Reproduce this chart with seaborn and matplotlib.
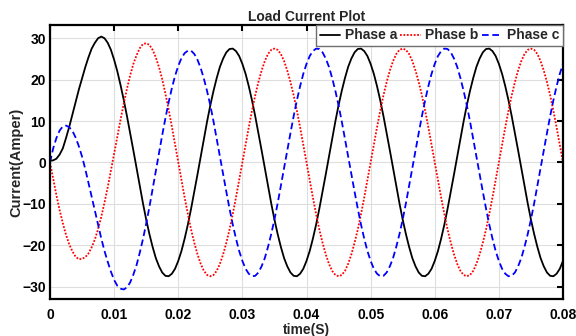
import numpy as np
import pandas as pd
import seaborn as sns
import matplotlib
matplotlib.use("Agg")
import matplotlib.pyplot as plt

# Load currents of the three phases, sampled every 0.5 ms from 0 to 80 ms
t_step = 0.0005
phase_a = [
    0.4, 0.5, 0.9, 1.9, 3.4, 5.9, 8.6, 11.6, 14.7, 17.6,
    20.3, 23.0, 25.4, 27.5, 28.9, 30.0, 30.4, 30.0, 28.9, 27.2,
    24.8, 22.0, 18.7, 15.1, 11.2, 7.1, 2.9, -1.4, -5.7, -9.9,
    -13.8, -17.3, -20.4, -23.1, -25.1, -26.6, -27.4, -27.5, -26.9, -25.7,
    -23.8, -21.4, -18.4, -15.0, -11.2, -7.1, -2.9, 1.4, 5.7, 9.9,
    13.8, 17.3, 20.4, 23.1, 25.1, 26.6, 27.4, 27.5, 26.9, 25.7,
    23.8, 21.4, 18.4, 15.0, 11.2, 7.1, 2.9, -1.4, -5.7, -9.9,
    -13.8, -17.3, -20.4, -23.1, -25.1, -26.6, -27.4, -27.5, -26.9, -25.7,
    -23.8, -21.4, -18.4, -15.0, -11.2, -7.1, -2.9, 1.4, 5.7, 9.9,
    13.8, 17.3, 20.4, 23.1, 25.1, 26.6, 27.4, 27.5, 26.9, 25.7,
    23.8, 21.4, 18.4, 15.0, 11.2, 7.1, 2.9, -1.4, -5.7, -9.9,
    -13.8, -17.3, -20.4, -23.1, -25.1, -26.6, -27.4, -27.5, -26.9, -25.7,
    -23.8, -21.4, -18.4, -15.0, -11.2, -7.1, -2.9, 1.4, 5.7, 9.9,
    13.8, 17.3, 20.4, 23.1, 25.1, 26.6, 27.4, 27.5, 26.9, 25.7,
    23.8, 21.4, 18.4, 15.0, 11.2, 7.1, 2.9, -1.4, -5.7, -9.9,
    -13.8, -17.3, -20.4, -23.1, -25.1, -26.6, -27.4, -27.5, -26.9, -25.7,
    -23.8,
]
phase_b = [
    0.0, -4.0, -7.9, -11.5, -14.7, -17.5, -19.8, -21.5, -22.8, -23.4,
    -23.3, -22.9, -22.0, -20.5, -18.6, -16.1, -13.1, -9.7, -6.0, -2.0,
    2.1, 6.2, 10.3, 14.2, 17.8, 21.0, 23.8, 25.9, 27.6, 28.6,
    28.8, 28.4, 27.2, 25.4, 23.0, 20.1, 16.6, 12.8, 8.7, 4.4,
    0.0, -4.3, -8.5, -12.5, -16.2, -19.4, -22.2, -24.5, -26.2, -27.2,
    -27.5, -27.2, -26.2, -24.5, -22.2, -19.4, -16.2, -12.5, -8.5, -4.3,
    0.0, 4.3, 8.5, 12.5, 16.2, 19.4, 22.2, 24.5, 26.2, 27.2,
    27.5, 27.2, 26.2, 24.5, 22.2, 19.4, 16.2, 12.5, 8.5, 4.3,
    0.0, -4.3, -8.5, -12.5, -16.2, -19.4, -22.2, -24.5, -26.2, -27.2,
    -27.5, -27.2, -26.2, -24.5, -22.2, -19.4, -16.2, -12.5, -8.5, -4.3,
    0.0, 4.3, 8.5, 12.5, 16.2, 19.4, 22.2, 24.5, 26.2, 27.2,
    27.5, 27.2, 26.2, 24.5, 22.2, 19.4, 16.2, 12.5, 8.5, 4.3,
    0.0, -4.3, -8.5, -12.5, -16.2, -19.4, -22.2, -24.5, -26.2, -27.2,
    -27.5, -27.2, -26.2, -24.5, -22.2, -19.4, -16.2, -12.5, -8.5, -4.3,
    0.0, 4.3, 8.5, 12.5, 16.2, 19.4, 22.2, 24.5, 26.2, 27.2,
    27.5, 27.2, 26.2, 24.5, 22.2, 19.4, 16.2, 12.5, 8.5, 4.3,
    0.0,
]
phase_c = [
    0.0, 3.4, 5.9, 7.7, 8.7, 8.9, 8.5, 7.6, 6.0, 3.9,
    1.4, -1.6, -4.9, -8.3, -11.7, -15.1, -18.4, -21.4, -24.0, -26.4,
    -28.4, -29.8, -30.5, -30.7, -30.2, -29.0, -27.1, -24.8, -21.8, -18.5,
    -14.8, -10.8, -6.5, -2.1, 2.3, 6.6, 10.7, 14.5, 17.9, 20.9,
    23.3, 25.2, 26.4, 27.0, 27.0, 26.2, 24.8, 22.8, 20.2, 17.2,
    13.8, 9.9, 5.7, 1.4, -2.9, -7.1, -11.2, -15.0, -18.4, -21.4,
    -23.8, -25.7, -26.9, -27.5, -27.4, -26.6, -25.1, -23.1, -20.4, -17.3,
    -13.8, -9.9, -5.7, -1.4, 2.9, 7.1, 11.2, 15.0, 18.4, 21.4,
    23.8, 25.7, 26.9, 27.5, 27.4, 26.6, 25.1, 23.1, 20.4, 17.3,
    13.8, 9.9, 5.7, 1.4, -2.9, -7.1, -11.2, -15.0, -18.4, -21.4,
    -23.8, -25.7, -26.9, -27.5, -27.4, -26.6, -25.1, -23.1, -20.4, -17.3,
    -13.8, -9.9, -5.7, -1.4, 2.9, 7.1, 11.2, 15.0, 18.4, 21.4,
    23.8, 25.7, 26.9, 27.5, 27.4, 26.6, 25.1, 23.1, 20.4, 17.3,
    13.8, 9.9, 5.7, 1.4, -2.9, -7.1, -11.2, -15.0, -18.4, -21.4,
    -23.8, -25.7, -26.9, -27.5, -27.4, -26.6, -25.1, -23.1, -20.4, -17.3,
    -13.8, -9.9, -5.7, -1.4, 2.9, 7.1, 11.2, 15.0, 18.4, 21.4,
    23.8,
]
phase_names = ["Phase a", "Phase b", "Phase c"]
x_ticks = [0, 0.01, 0.02, 0.03, 0.04, 0.05, 0.06, 0.07, 0.08]
x_tick_labels = ["0", "0.01", "0.02", "0.03", "0.04", "0.05", "0.06", "0.07", "0.08"]
y_ticks = [-30, -20, -10, 0, 10, 20, 30]

n = len(phase_a)
assert len(phase_b) == n and len(phase_c) == n
time = np.round(np.arange(n) * t_step, 6)

df = pd.DataFrame({
    "time": np.concatenate([time, time, time]),
    "current": np.concatenate([phase_a, phase_b, phase_c]),
    "phase": np.repeat(phase_names, n),
})

sns.set_theme(style="white")
plt.rcParams["font.family"] = ["Liberation Sans", "DejaVu Sans"]
plt.rcParams["font.weight"] = "bold"
plt.rcParams["axes.labelweight"] = "bold"
plt.rcParams["axes.titleweight"] = "bold"

fig = plt.figure(figsize=(5.76, 3.36), dpi=100)
ax = fig.add_axes([50 / 576, 1 - 299 / 336, 513 / 576, 274 / 336])

palette = {"Phase a": "#000000", "Phase b": "#ff0000", "Phase c": "#0000ff"}
dashes = {"Phase a": "", "Phase b": (1.0, 0.9), "Phase c": (3.7, 2.0)}
sns.lineplot(data=df, x="time", y="current", hue="phase", style="phase",
             hue_order=phase_names, style_order=phase_names,
             palette=palette, dashes=dashes, estimator=None, sort=False,
             linewidth=1.3, legend=False, ax=ax)

ax.set_xlim(0, 0.08)
ax.set_ylim(-33, 33.2)
ax.set_xticks(x_ticks)
ax.set_xticklabels(x_tick_labels)
ax.set_yticks(y_ticks)
ax.grid(True, color="#dedede", linewidth=0.8)
ax.set_axisbelow(True)

for side in ["left", "right", "top", "bottom"]:
    ax.spines[side].set_visible(True)
    ax.spines[side].set_color("black")
    ax.spines[side].set_linewidth(1.6)

ax.tick_params(axis="both", which="major", direction="in", length=4.5, width=1.5,
               top=True, right=True, colors="black", labelsize=10)
ax.tick_params(axis="x", pad=6.5)
ax.tick_params(axis="y", pad=3)

ax.set_xlabel("time(S)", fontsize=10, labelpad=1)
ax.set_ylabel("Current(Amper)", fontsize=10.5)
ax.yaxis.set_label_coords(-0.052, 0.5)
ax.set_title("Load Current Plot", fontsize=10, pad=3)

leg = ax.legend(handles=ax.lines[:3], labels=phase_names, loc="upper right",
                bbox_to_anchor=(1.0, 1.0), ncol=3, frameon=True, fancybox=False,
                framealpha=1, edgecolor="#6e6e6e", fontsize=10,
                handlelength=1.45, handletextpad=0.35, columnspacing=0.25,
                borderpad=0.25, borderaxespad=0.0)
leg.get_frame().set_linewidth(1.0)

fig.savefig("out.png", dpi=100)
